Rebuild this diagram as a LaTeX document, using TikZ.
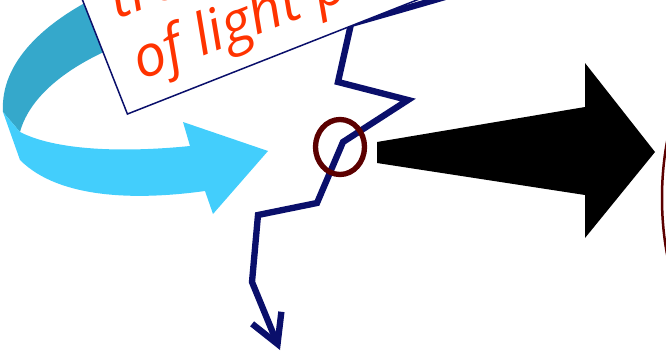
\documentclass[tikz,border=0pt]{standalone}
\usepackage{fontspec}
\newfontfamily\notefont{Open Sans}
\usetikzlibrary{arrows.meta,positioning,shapes.geometric}
\definecolor{ribboncolor}{HTML}{43CEFC}
\definecolor{ribbonback}{HTML}{35A8CB}
\definecolor{walkcolor}{HTML}{0A0F6B}
\definecolor{ringcolor}{HTML}{5C0000}
\definecolor{notecolor}{HTML}{FF3300}

\begin{document}
\begin{tikzpicture}[
    x=0.03cm, y=0.03cm,
    walk/.style={walkcolor, line width=0.19cm, line join=miter,
                 -{Straight Barb[length=0.85cm, width=0.95cm]}},
    ring/.style={ellipse, draw=ringcolor, line width=0.16cm, inner sep=0pt,
                 minimum width=1.47cm, minimum height=1.65cm},
    note/.style={draw=walkcolor, line width=0.045cm, fill=white, rotate=21.5,
                 anchor=south west, align=left, text=notecolor,
                 font=\notefont\itshape\fontsize{49pt}{56pt}\selectfont,
                 inner xsep=0.76cm, inner ysep=0.36cm}
]
\useasboundingbox (0,0) rectangle (666,-359);
\clip (0,0) rectangle (666,-359);

% Curved ribbon arrow
\fill[ribbonback] (3,-112) .. controls (0,-62) and (45,-22) .. (100,5)
    -- (140,-20) -- (120,-45) .. controls (70,-65) and (30,-95) .. (20,-132) -- cycle;
\fill[ribboncolor] (3,-112) -- (20,-132) .. controls (55,-150) and (120,-153) .. (190,-146)
    -- (183,-122) -- (268,-151) -- (213,-214) -- (205,-191)
    .. controls (140,-200) and (60,-200) .. (20,-160) -- cycle;

% Random walk
\draw[walk] (445,3) -- (400,-10) -- (351,-24) -- (338,-82) -- (408,-100) -- (343,-142)
    -- (317,-203) -- (258,-215) -- (252,-282) -- (280,-350);

% Label box
\node[note] (note) at (127,-115) {trek\\of light propagation};

% Marked step
\node[ring] (loop) at (340,-147) {};

% Big arrow
\fill[black] (377,-142) -- (585,-107) -- (585,-63) -- (655,-152) -- (585,-238)
    -- (585,-195) -- (377,-163) -- cycle;

% Edge of the next shape
\draw[ringcolor, line width=0.075cm] (722,-198) ellipse [x radius=1.8cm, y radius=4.2cm];

\end{tikzpicture}
\end{document}
